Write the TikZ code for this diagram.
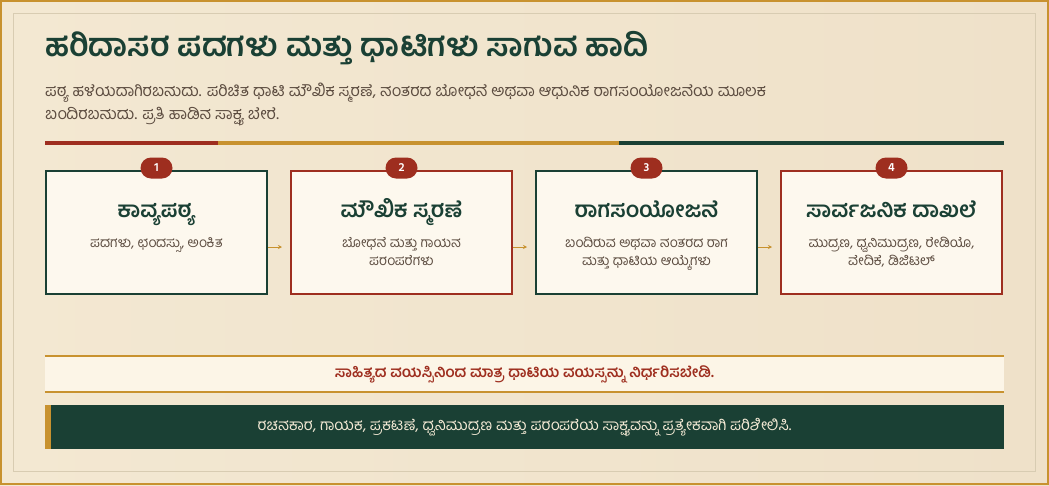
\documentclass[tikz,border=0pt]{standalone}
\usepackage{fontspec}
\newfontfamily\kn[Script=Kannada]{Hind Mysuru}
\usetikzlibrary{positioning, calc, arrows.meta}
\definecolor{pagebg}{HTML}{F3E8D2}
\definecolor{pagebgr}{HTML}{EFE1C9}
\definecolor{dkgreen}{HTML}{1A4034}
\definecolor{rust}{HTML}{9E2E1F}
\definecolor{gold}{HTML}{C8922F}
\definecolor{boxfill}{HTML}{FDF8EE}
\definecolor{notefill}{HTML}{FCF5E7}
\definecolor{inktext}{HTML}{5C4C40}
\definecolor{framegray}{HTML}{D8CCB2}
\definecolor{cream}{HTML}{F5EBD6}

\begin{document}
\begin{tikzpicture}[x=1pt, y=-1pt,
    stagebox/.style={draw=#1, line width=2pt, fill=boxfill, minimum width=221pt, minimum height=123pt, inner sep=0pt},
    badge/.style={fill=rust, text=white, rounded corners=10.5pt, minimum width=32pt, minimum height=21pt, inner sep=0pt, font=\kn\bfseries\fontsize{12}{12}\selectfont},
    stagetitle/.style={anchor=base, text=dkgreen, inner sep=0pt, font=\kn\bfseries\fontsize{22}{24}\selectfont},
    stagetext/.style={anchor=base, text=inktext, inner sep=0pt, font=\kn\fontsize{13.8}{16}\selectfont},
    leadtext/.style={anchor=base west, inner sep=0pt, text=inktext, font=\kn\fontsize{16.2}{18}\selectfont},
    flowarrow/.style={draw=gold, line width=1pt, -{Stealth[length=4pt, width=4pt]}, shorten >=8pt}]

      \useasboundingbox (0,0) rectangle (1049,485);
      \shade[left color=pagebg, right color=pagebgr] (0,0) rectangle (1049,485);
      \draw[gold, line width=2pt] (1,1) rectangle (1048,484);
      \draw[framegray, line width=1pt] (13.5,13.5) rectangle (1035.5,471.5);

      \node[anchor=base west, inner sep=0pt, text=dkgreen, font=\kn\bfseries\fontsize{32}{36}\selectfont] (title) at (45,56) {ಹರಿದಾಸರ ಪದಗಳು ಮತ್ತು ಧಾಟಿಗಳು ಸಾಗುವ ಹಾದಿ};
      \node[leadtext] (lead1) at (45,96) {ಪಠ್ಯ ಹಳೆಯದಾಗಿರಬಹುದು. ಪರಿಚಿತ ಧಾಟಿ ಮೌಖಿಕ ಸ್ಮರಣೆ, ನಂತರದ ಬೋಧನೆ ಅಥವಾ ಆಧುನಿಕ ರಾಗಸಂಯೋಜನೆಯ ಮೂಲಕ};
      \node[leadtext] (lead2) at (45,119) {ಬಂದಿರಬಹುದು. ಪ್ರತಿ ಹಾಡಿನ ಸಾಕ್ಷ್ಯ ಬೇರೆ.};

      \draw[rust, line width=4pt] (45,142.5) -- (218,142.5);
      \draw[gold, line width=4pt] (218,142.5) -- (619,142.5);
      \draw[dkgreen, line width=4pt] (619,142.5) -- (1004,142.5);

      \node[stagebox=dkgreen] (b1) at (156.5,232.5) {};
      \node[stagebox=rust, right=22pt of b1] (b2) {};
      \node[stagebox=dkgreen, right=22pt of b2] (b3) {};
      \node[stagebox=rust, right=22pt of b3] (b4) {};

      \node[badge] (n1) at ([yshift=2pt]b1.north) {1};
      \node[badge] (n2) at ([yshift=2pt]b2.north) {2};
      \node[badge] (n3) at ([yshift=2pt]b3.north) {3};
      \node[badge] (n4) at ([yshift=2pt]b4.north) {4};

      \node[stagetitle] (t1) at ($(b1.north)+(0,47)$) {ಕಾವ್ಯಪಠ್ಯ};
      \node[stagetitle] (t2) at ($(b2.north)+(0,47)$) {ಮೌಖಿಕ ಸ್ಮರಣೆ};
      \node[stagetitle] (t3) at ($(b3.north)+(0,47)$) {ರಾಗಸಂಯೋಜನೆ};
      \node[stagetitle] (t4) at ($(b4.north)+(0,47)$) {ಸಾರ್ವಜನಿಕ ದಾಖಲೆ};

      \node[stagetext] (s1) at ($(b1.north)+(0,77)$) {ಪದಗಳು, ಛಂದಸ್ಸು, ಅಂಕಿತ};
      \node[stagetext] (s2) at ($(b2.north)+(0,77)$) {ಬೋಧನೆ ಮತ್ತು ಗಾಯನ};
      \node[stagetext] (s2b) at ($(b2.north)+(0,95)$) {ಪರಂಪರೆಗಳು};
      \node[stagetext] (s3) at ($(b3.north)+(0,77)$) {ಬಂದಿರುವ ಅಥವಾ ನಂತರದ ರಾಗ};
      \node[stagetext] (s3b) at ($(b3.north)+(0,95)$) {ಮತ್ತು ಧಾಟಿಯ ಆಯ್ಕೆಗಳು};
      \node[stagetext] (s4) at ($(b4.north)+(0,77)$) {ಮುದ್ರಣ, ಧ್ವನಿಮುದ್ರಣ, ರೇಡಿಯೊ,};
      \node[stagetext] (s4b) at ($(b4.north)+(0,95)$) {ವೇದಿಕೆ, ಡಿಜಿಟಲ್};

      \draw[flowarrow] ([yshift=-14.5pt]b1.east) -- ([yshift=-14.5pt]b2.west);
      \draw[flowarrow] ([yshift=-14.5pt]b2.east) -- ([yshift=-14.5pt]b3.west);
      \draw[flowarrow] ([yshift=-14.5pt]b3.east) -- ([yshift=-14.5pt]b4.west);

      \node[fill=notefill, minimum width=959pt, minimum height=36pt, inner sep=0pt, text=rust, font=\kn\bfseries\fontsize{15}{17}\selectfont] (note) at (524.5,374) {ಸಾಹಿತ್ಯದ ವಯಸ್ಸಿನಿಂದ ಮಾತ್ರ ಧಾಟಿಯ ವಯಸ್ಸನ್ನು ನಿರ್ಧರಿಸಬೇಡಿ.};
      \draw[gold, line width=1.5pt] (note.north west) -- (note.north east);
      \draw[gold, line width=1.5pt] (note.south west) -- (note.south east);

      \node[fill=dkgreen, minimum width=959pt, minimum height=44pt, inner sep=0pt, text=cream, font=\kn\fontsize{15.4}{17}\selectfont] (banner) at (524.5,427) {ರಚನಕಾರ, ಗಾಯಕ, ಪ್ರಕಟಣೆ, ಧ್ವನಿಮುದ್ರಣ ಮತ್ತು ಪರಂಪರೆಯ ಸಾಕ್ಷ್ಯವನ್ನು ಪ್ರತ್ಯೇಕವಾಗಿ ಪರಿಶೀಲಿಸಿ.};
      \fill[gold] (banner.north west) rectangle ([xshift=6pt]banner.south west);

    \end{tikzpicture}
\end{document}
